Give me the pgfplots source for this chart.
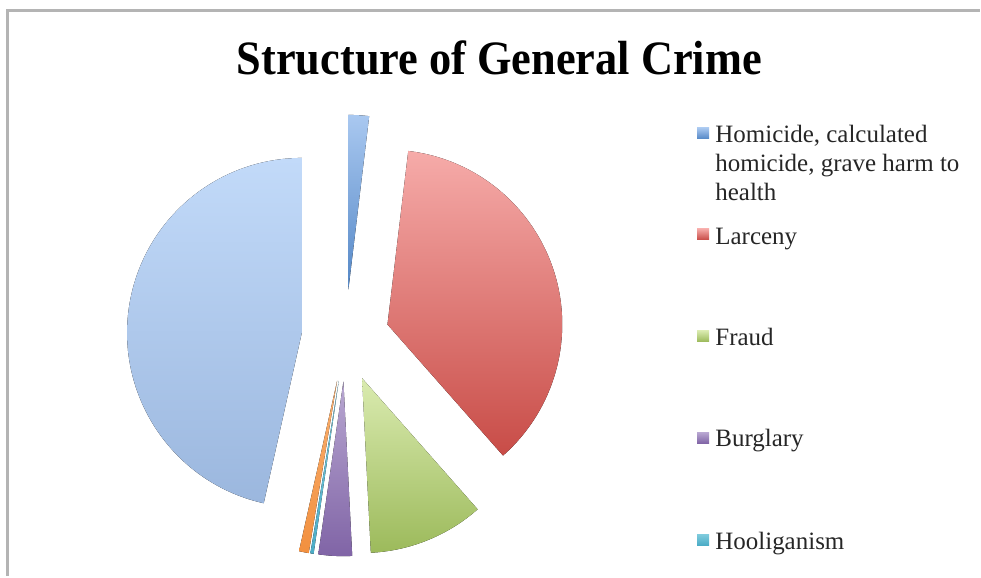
\documentclass[border=0pt]{standalone}
\usepackage{fontspec}
\setmainfont{Liberation Serif}
\newfontfamily\titlefont[FakeStretch=0.925]{Liberation Serif}
\usepackage{pgfplots}
\pgfplotsset{compat=1.18}

\definecolor{homT}{HTML}{A9C8F0}\definecolor{homB}{HTML}{5487C6}
\definecolor{larT}{HTML}{F6ABA9}\definecolor{larB}{HTML}{C84C47}
\definecolor{fraT}{HTML}{DAEBB0}\definecolor{fraB}{HTML}{9CBA5B}
\definecolor{burT}{HTML}{B8A7D1}\definecolor{burB}{HTML}{8064A6}
\definecolor{hooT}{HTML}{7FCBDD}\definecolor{hooB}{HTML}{4BACC6}
\definecolor{othT}{HTML}{F9B070}\definecolor{othB}{HTML}{F2903F}
\definecolor{resT}{HTML}{C2DAF9}\definecolor{resB}{HTML}{9BB7DE}
\definecolor{frame}{HTML}{B4B4B4}

% pie geometry in picture pixels (axis units), 1 px = 0.5pt
\def\cx{346}\def\cy{239}\def\R{175}\def\Rpt{87.5pt}
\gdef\cum{0}
% #1 share (%), #2 explode (px), #3 top colour, #4 bottom colour
\newcommand\slice[4]{%
  \pgfplotsextra{%
    \pgfmathsetmacro\aA{90-3.6*\cum}%
    \pgfmathsetmacro\aB{90-3.6*(\cum+#1)}%
    \pgfmathsetmacro\aM{(\aA+\aB)/2}%
    \pgfmathsetmacro\px{\cx+#2*cos(\aM)}%
    \pgfmathsetmacro\py{\cy+#2*sin(\aM)}%
    \pgfmathsetmacro\qx{\px+\R*cos(\aA)}%
    \pgfmathsetmacro\qy{\py+\R*sin(\aA)}%
    \fill[top color=#3,bottom color=#4] (axis cs:\px,\py) -- (axis cs:\qx,\qy)
      arc[start angle=\aA, end angle=\aB, radius=\Rpt] -- cycle;
    \pgfmathsetmacro\newcum{\cum+#1}%
    \xdef\cum{\newcum}%
  }%
}
\tikzset{legtext/.style={anchor=base west,inner sep=0pt,text=black!85,
        font=\fontsize{12.5}{14.5}\selectfont}}
% legend key: #1 y of box bottom, #2 #3 colours
\newcommand\key[3]{%
  \fill[top color=#2,bottom color=#3] (axis cs:698,#1) rectangle (axis cs:710,{#1+11});
}

\begin{document}
\begin{tikzpicture}
\begin{axis}[
  x=0.5pt, y=0.5pt,
  xmin=0, xmax=981, ymin=0, ymax=577,
  hide axis, clip=false,
]
\path (axis cs:0,0) rectangle (axis cs:981,577);
% chart frame
\draw[frame, line width=1.4pt] (axis cs:7.5,0) -- (axis cs:7.5,566.5) -- (axis cs:981,566.5);

\node[anchor=base, inner sep=0pt, font=\titlefont\bfseries\fontsize{24}{29}\selectfont]
  at (axis cs:500,502) {Structure of General Crime};

\slice{1.9}{48}{homT}{homB}
\slice{36.6}{44}{larT}{larB}
\slice{10.7}{44}{fraT}{fraB}
\slice{3.1}{44}{burT}{burB}
\slice{0.3}{44}{hooT}{hooB}
\slice{0.9}{44}{othT}{othB}
\slice{46.5}{44}{resT}{resB}

\key{438}{homT}{homB}
\node[legtext] at (axis cs:716,434) {Homicide, calculated};
\node[legtext] at (axis cs:716,405) {homicide, grave harm to};
\node[legtext] at (axis cs:716,376) {health};
\key{337}{larT}{larB}
\node[legtext] at (axis cs:716,332) {Larceny};
\key{235}{fraT}{fraB}
\node[legtext] at (axis cs:716,231) {Fraud};
\key{133}{burT}{burB}
\node[legtext] at (axis cs:716,130) {Burglary};
\key{31}{hooT}{hooB}
\node[legtext] at (axis cs:716,27) {Hooliganism};
\end{axis}
\end{tikzpicture}
\end{document}
